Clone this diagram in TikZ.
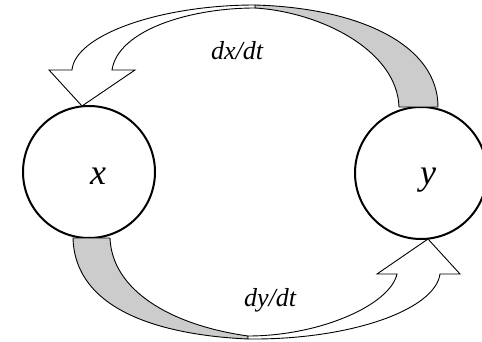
\documentclass[tikz,border=0pt]{standalone}
\usepackage{fontspec}
\setmainfont{Liberation Serif}
\begin{document}
\begin{tikzpicture}[x=1pt,y=-1pt,
  state/.style={circle,draw,line width=2pt,minimum size=132pt,inner sep=0pt},
  band/.style={draw,line width=0.9pt,fill=gray!40,line join=round},
  arrowbody/.style={draw,line width=0.9pt,fill=white,line join=miter},
  rate/.style={font=\fontsize{26}{26}\selectfont\itshape,inner sep=0pt},
  var/.style={font=\fontsize{36}{36}\selectfont\itshape,inner sep=0pt}]
\useasboundingbox (0,0) rectangle (482,342);
% states
\node[state] (X) at (89,172) {};
\node[state] (Y) at (421,173) {};
\node[var] (xl) at (98,176) {x};
\node[var] (yl) at (428,180) {y};
% upper flow y -> x
\path[band] (438,107) .. controls (438,45) and (360,8) .. (255,5)
  -- (255,8) .. controls (320,12) and (397,50) .. (399,107) -- cycle;
\path[arrowbody] (255,5) .. controls (160,5) and (75,35) .. (72,70)
  -- (49,70) -- (82,106) -- (135,70) -- (112,70)
  .. controls (118,30) and (190,8) .. (255,8) -- cycle;
% lower flow x -> y
\path[band] (73,238) .. controls (75,310) and (160,335) .. (248,339)
  -- (248,336) .. controls (170,325) and (112,290) .. (110,238) -- cycle;
\path[arrowbody] (248,339) .. controls (350,340) and (435,310) .. (440,274)
  -- (460,274) -- (428,239) -- (377,274) -- (397,274)
  .. controls (390,305) and (320,336) .. (248,336) -- cycle;
% labels
\node[rate] (dxdt) at (237,51) {dx/dt};
\node[rate] (dydt) at (270,300) {dy/dt};
\end{tikzpicture}
\end{document}
